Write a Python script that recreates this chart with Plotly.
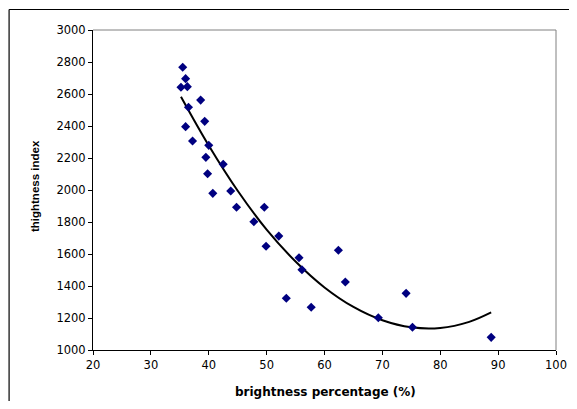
import plotly.graph_objects as go

# scatter data (brightness %, thightness index)
brightness = [35.5, 36.0, 35.2, 36.3, 38.6, 36.5, 39.3, 36.0, 37.2, 40.0,
              39.5, 42.5, 39.8, 40.7, 43.8, 44.8, 49.6, 47.8, 52.1, 49.9,
              62.4, 55.6, 56.1, 63.6, 53.4, 57.7, 69.3, 74.1, 75.2, 88.8]
thightness = [2767, 2696, 2642, 2646, 2562, 2517, 2429, 2396, 2306, 2279,
              2204, 2161, 2102, 1979, 1994, 1892, 1892, 1802, 1712, 1648,
              1623, 1577, 1502, 1425, 1323, 1267, 1202, 1354, 1142, 1079]

# polynomial trendline
trend_x = [35.2, 40, 45, 50, 55, 60, 65, 70, 75, 80, 85, 88.8]
trend_y = [2583, 2278, 1995, 1752, 1553, 1391, 1269, 1186, 1142, 1138, 1176, 1235]

x_ticks = [20, 30, 40, 50, 60, 70, 80, 90, 100]
y_ticks = [1000, 1200, 1400, 1600, 1800, 2000, 2200, 2400, 2600, 2800, 3000]

TICKFONT = "DejaVu Sans, Verdana, sans-serif"
ARIAL = "Liberation Sans, Arial, sans-serif"

OFF = 8  # page body margin
W, H = 577 - 2 * OFF, 409 - 2 * OFF
# plot area in window pixels
L, R, T, B = 92.5, 556, 30, 350
l, r, t, b = L - OFF, W - (R - OFF), T - OFF, H - (B - OFF)

fig = go.Figure()
fig.add_trace(go.Scatter(
    x=trend_x, y=trend_y, mode="lines", line=dict(color="black", width=2, shape="spline"),
    hoverinfo="skip", showlegend=False))
fig.add_trace(go.Scatter(
    x=brightness, y=thightness, mode="markers",
    marker=dict(symbol="diamond", size=7, color="#000080", line=dict(width=0)),
    showlegend=False))


def px(xp):  # window px -> paper x
    return (xp - L) / (R - L)


def py(yp):  # window px -> paper y
    return (B - yp) / (B - T)


fig.update_layout(
    width=W, height=H, autosize=False,
    margin=dict(l=l, r=r, t=t, b=b, pad=0, autoexpand=False),
    paper_bgcolor="white", plot_bgcolor="white",
    font=dict(family=TICKFONT, size=11, color="black"),
    xaxis=dict(range=[20, 100], tickvals=x_ticks, showgrid=False, zeroline=False,
               showline=True, linecolor="black", linewidth=1, automargin=False,
               ticks="outside", ticklen=4, tickcolor="black",
               tickfont=dict(family=TICKFONT, size=11.5, color="black")),
    yaxis=dict(range=[1000, 3000], tickvals=y_ticks, showgrid=False, zeroline=False,
               showline=True, linecolor="black", linewidth=1, automargin=False,
               ticks="outside", ticklen=4, tickcolor="black",
               tickfont=dict(family=TICKFONT, size=11.5, color="black")),
    shapes=[
        dict(type="line", xref="paper", yref="paper", x0=0, x1=1, y0=1, y1=1,
             line=dict(color="#808080", width=1)),
        dict(type="line", xref="paper", yref="paper", x0=1, x1=1, y0=0, y1=1,
             line=dict(color="#808080", width=1)),
        dict(type="line", xref="paper", yref="paper", x0=px(8.5), x1=px(577),
             y0=py(9.5), y1=py(9.5), line=dict(color="black", width=1.2), layer="above"),
        dict(type="line", xref="paper", yref="paper", x0=px(8.5), x1=px(8.5),
             y0=py(409), y1=py(9.5), line=dict(color="black", width=1.2), layer="above"),
    ],
    annotations=[
        dict(text="<b>brightness percentage (%)</b>", xref="paper", yref="paper",
             x=px(325), y=py(392), showarrow=False, xanchor="center", yanchor="middle",
             font=dict(family=TICKFONT, size=12, color="black")),
        dict(text="<b>thightness index</b>", xref="paper", yref="paper",
             x=px(34), y=py(186.5), showarrow=False, textangle=-90,
             xanchor="center", yanchor="middle",
             font=dict(family=ARIAL, size=11.5, color="black")),
    ],
)

fig.write_html("out.html", config={"displayModeBar": False})
